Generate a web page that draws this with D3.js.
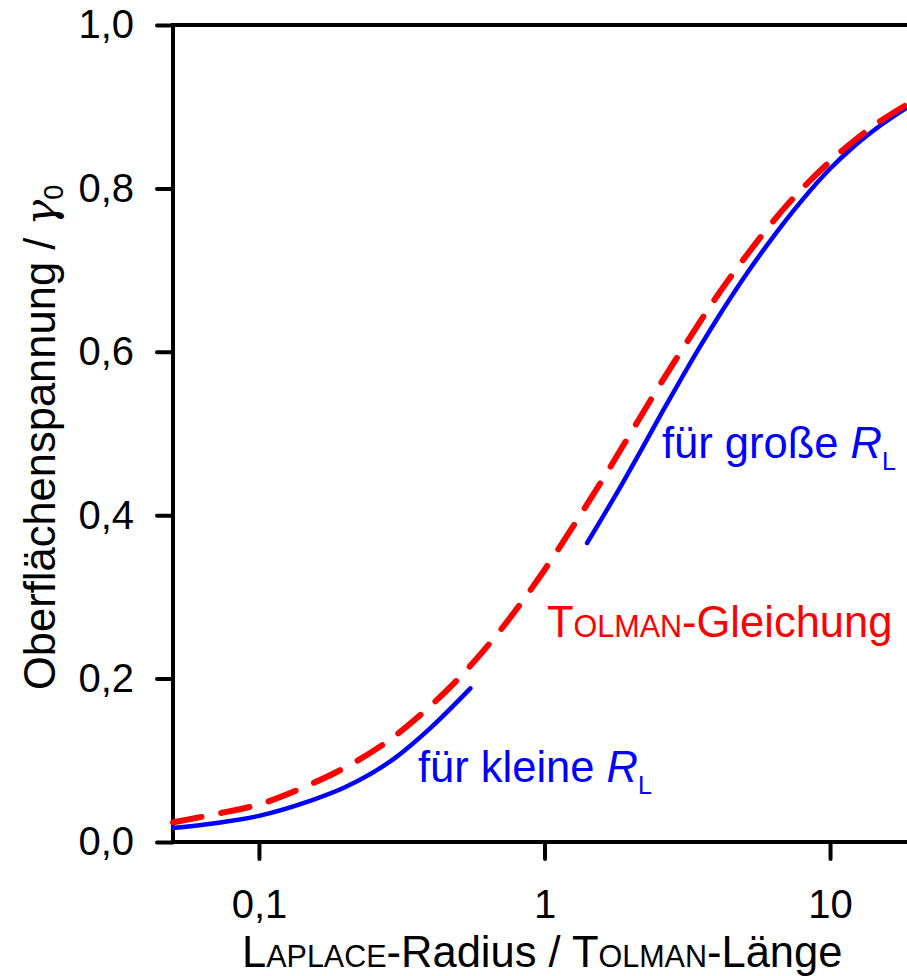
<!DOCTYPE html>
<html>
<head>
<meta charset="utf-8">
<script src="https://cdn.jsdelivr.net/npm/d3@7"></script>
<style>
  body { margin: 0; background: #fff; }
  svg { display: block; font-family: "Liberation Sans", Arial, sans-serif; }
</style>
</head>
<body>
<div id="chart"></div>
<script>

// Tolman equation (red dashed)
var tolmanX = [0.05, 0.07, 0.1, 0.15, 0.2, 0.3, 0.4, 0.5, 0.7, 1, 1.3, 1.6, 2, 2.5, 3, 4, 5, 7, 10, 14, 20];
var tolmanY = [0.024, 0.034, 0.046, 0.070, 0.091, 0.130, 0.167, 0.200, 0.259, 0.333, 0.394, 0.444, 0.500, 0.556, 0.600, 0.667, 0.714, 0.778, 0.833, 0.875, 0.909];

// approximation for small R_L (blue)
var smallX = [0.05, 0.07, 0.1, 0.15, 0.2, 0.3, 0.4, 0.55];
var smallY = [0.017, 0.023, 0.032, 0.050, 0.067, 0.103, 0.140, 0.188];

// approximation for large R_L (blue)
var bigX = [1.41, 1.6, 1.875, 2.2, 2.6, 3, 3.5, 4, 5, 6, 7, 8, 10, 12, 15, 20];
var bigY = [0.366, 0.398, 0.439, 0.482, 0.528, 0.566, 0.606, 0.639, 0.691, 0.730, 0.761, 0.786, 0.824, 0.850, 0.877, 0.906];

var xTicks = [0.1, 1, 10];
var xTickLabels = ["0,1", "1", "10"];
var yTicks = [0, 0.2, 0.4, 0.6, 0.8, 1.0];

var width = 907, height = 976;

var svg = d3.select("#chart")
    .append("svg")
    .attr("width", width)
    .attr("height", height);

var x = d3.scaleLog().domain([0.05, 20]).range([173, 916]);
var y = d3.scaleLinear().domain([0, 1]).range([842, 25]);

var de = d3.formatLocale({decimal: ",", thousands: ".", grouping: [3], currency: ["", " €"]});
var fmt = de.format(".1f");

// axes
var yAxis = d3.axisLeft(y)
    .tickValues(yTicks)
    .tickFormat(fmt)
    .tickSize(16)
    .tickPadding(23);

var xAxis = d3.axisBottom(x)
    .tickValues(xTicks)
    .tickFormat(function(d, i) { return xTickLabels[i]; })
    .tickSize(17)
    .tickPadding(31);

var gy = svg.append("g")
    .attr("transform", "translate(" + x(0.05) + ",0)")
    .call(yAxis);

var gx = svg.append("g")
    .attr("transform", "translate(0," + y(0) + ")")
    .call(xAxis);

[gx, gy].forEach(function(g) {
    g.select(".domain").remove();
    g.selectAll(".tick line").attr("stroke", "#000").attr("stroke-width", 4).attr("stroke-linecap", "round");
    g.selectAll(".tick text").attr("fill", "#000").attr("font-size", 40).attr("font-family", "Liberation Sans, Arial, sans-serif");
});

// frame lines
svg.append("line")
    .attr("x1", x(0.05)).attr("x2", width + 10)
    .attr("y1", y(1)).attr("y2", y(1))
    .attr("stroke", "#000").attr("stroke-width", 4);
svg.append("line")
    .attr("x1", x(0.05)).attr("x2", x(0.05))
    .attr("y1", y(1) - 2).attr("y2", y(0) + 2)
    .attr("stroke", "#000").attr("stroke-width", 4);
svg.append("line")
    .attr("x1", x(0.05) - 2).attr("x2", width + 10)
    .attr("y1", y(0)).attr("y2", y(0))
    .attr("stroke", "#000").attr("stroke-width", 4);

var line = d3.line()
    .x(function(d) { return x(d[0]); })
    .y(function(d) { return y(d[1]); })
    .curve(d3.curveMonotoneX);

function pairs(xs, ys) {
    return xs.map(function(v, i) { return [v, ys[i]]; });
}

svg.append("path")
    .datum(pairs(smallX, smallY))
    .attr("fill", "none")
    .attr("stroke", "#0000ff")
    .attr("stroke-width", 4.5)
    .attr("stroke-linecap", "round")
    .attr("d", line);

svg.append("path")
    .datum(pairs(bigX, bigY))
    .attr("fill", "none")
    .attr("stroke", "#0000ff")
    .attr("stroke-width", 4.5)
    .attr("stroke-linecap", "round")
    .attr("d", line);

svg.append("path")
    .datum(pairs(tolmanX, tolmanY))
    .attr("fill", "none")
    .attr("stroke", "#ff0000")
    .attr("stroke-width", 6)
    .attr("stroke-linecap", "round")
    .attr("stroke-dasharray", "29,20")
    .attr("d", line);

// text helper
function richText(sel, parts) {
    parts.forEach(function(p) {
        var t = sel.append("tspan").text(p.t);
        if (p.size) t.attr("font-size", p.size);
        if (p.italic) t.attr("font-style", "italic");
        if (p.dy) t.attr("dy", p.dy);
        if (p.font) t.attr("font-family", p.font);
    });
}

var fs = 43.5;
var sc = 30.5; // small caps size

// x title
var xt = svg.append("text")
    .attr("x", 242).attr("y", 967)
    .attr("font-size", fs)
    .attr("fill", "#000");
richText(xt, [
    {t: "L"}, {t: "APLACE", size: sc}, {t: "-Radius / T"}, {t: "OLMAN", size: sc}, {t: "-Länge"}
]);

// y title
var yt = svg.append("text")
    .attr("transform", "translate(55,690) rotate(-90)")
    .attr("font-size", fs)
    .attr("fill", "#000");
richText(yt, [
    {t: "Oberflächenspannung / "},
    {t: "γ", italic: true, font: "DejaVu Serif, serif"},
    {t: "0", size: 27, dy: 8}
]);

// annotations
var a1 = svg.append("text")
    .attr("x", 662).attr("y", 458)
    .attr("font-size", fs)
    .attr("fill", "#0000ff");
richText(a1, [{t: "für große "}, {t: "R", italic: true}, {t: "L", size: 25, dy: 12}]);

var a2 = svg.append("text")
    .attr("x", 418).attr("y", 782)
    .attr("font-size", fs)
    .attr("fill", "#0000ff");
richText(a2, [{t: "für kleine "}, {t: "R", italic: true}, {t: "L", size: 25, dy: 12}]);

var a3 = svg.append("text")
    .attr("x", 547).attr("y", 637)
    .attr("font-size", fs)
    .attr("fill", "#ff0000");
richText(a3, [{t: "T"}, {t: "OLMAN", size: sc}, {t: "-Gleichung"}]);

</script>
</body>
</html>
